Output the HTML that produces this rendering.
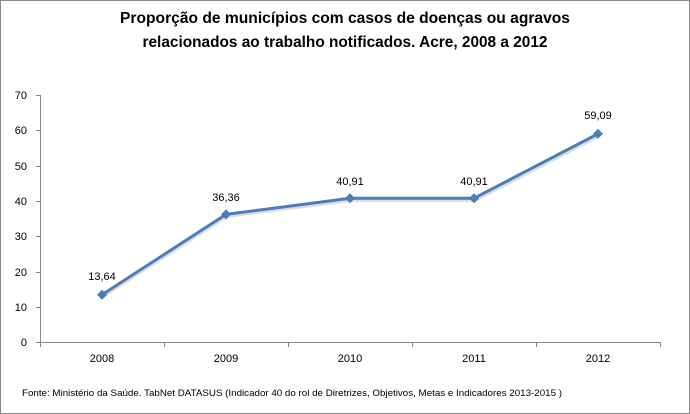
<!DOCTYPE html>
<html><head><meta charset="utf-8"><style>
body{margin:0;background:#fff}
svg{display:block;font-family:"Liberation Sans",sans-serif}
</style></head><body>
<svg width="690" height="414" viewBox="0 0 690 414">
<rect x="0.5" y="0.5" width="689" height="413" fill="#fff" stroke="#888"/>
<text x="345" y="23" text-anchor="middle" font-size="15.5" font-weight="bold" fill="#000" textLength="450" lengthAdjust="spacingAndGlyphs">Proporção de municípios com casos de doenças ou agravos</text>
<text x="345" y="47" text-anchor="middle" font-size="15.5" font-weight="bold" fill="#000" textLength="405" lengthAdjust="spacingAndGlyphs">relacionados ao trabalho notificados. Acre, 2008 a 2012</text>
<g stroke="#888" stroke-width="1">
<line x1="40.5" y1="95" x2="40.5" y2="343"/>
<line x1="40" y1="342.5" x2="660" y2="342.5"/>
<line x1="36" y1="95.5" x2="40" y2="95.5"/><line x1="36" y1="130.5" x2="40" y2="130.5"/><line x1="36" y1="166.5" x2="40" y2="166.5"/><line x1="36" y1="201.5" x2="40" y2="201.5"/><line x1="36" y1="236.5" x2="40" y2="236.5"/><line x1="36" y1="272.5" x2="40" y2="272.5"/><line x1="36" y1="307.5" x2="40" y2="307.5"/><line x1="36" y1="342.5" x2="40" y2="342.5"/>
<line x1="40.5" y1="342" x2="40.5" y2="347"/><line x1="164.5" y1="342" x2="164.5" y2="347"/><line x1="288.5" y1="342" x2="288.5" y2="347"/><line x1="412.5" y1="342" x2="412.5" y2="347"/><line x1="536.5" y1="342" x2="536.5" y2="347"/><line x1="660.5" y1="342" x2="660.5" y2="347"/>
</g>
<g font-size="11" fill="#000" text-anchor="end">
<text x="27" y="99">70</text><text x="27" y="134">60</text><text x="27" y="170">50</text><text x="27" y="205">40</text><text x="27" y="240">30</text><text x="27" y="276">20</text><text x="27" y="311">10</text><text x="27" y="346">0</text>
</g>
<g font-size="11" fill="#000" text-anchor="middle">
<text x="102" y="362">2008</text><text x="226" y="362">2009</text><text x="350" y="362">2010</text><text x="474" y="362">2011</text><text x="598" y="362">2012</text>
<text x="102" y="280">13,64</text><text x="226" y="201">36,36</text><text x="350" y="185">40,91</text><text x="474" y="185">40,91</text><text x="598" y="119">59,09</text>
</g>
<polyline points="103,296.5 227,216.5 351,200.5 475,200.5 599,136" fill="none" stroke="#ddd" stroke-width="3"/>
<polyline points="102,294.7 226,214.4 350,198.3 474,198.3 598,133.8" fill="none" stroke="#4a7ebb" stroke-width="3" stroke-linejoin="round"/>
<g fill="#4a7ebb">
<path d="M102 289.7l5 5-5 5-5-5z"/><path d="M226 209.4l5 5-5 5-5-5z"/><path d="M350 193.3l5 5-5 5-5-5z"/><path d="M474 193.3l5 5-5 5-5-5z"/><path d="M598 128.8l5 5-5 5-5-5z"/>
</g>
<text x="22" y="396" font-size="9.5" fill="#000" textLength="540" lengthAdjust="spacingAndGlyphs">Fonte: Ministério da Saúde. TabNet DATASUS (Indicador 40 do rol de Diretrizes, Objetivos, Metas e Indicadores 2013-2015 )</text>
</svg>
</body></html>
